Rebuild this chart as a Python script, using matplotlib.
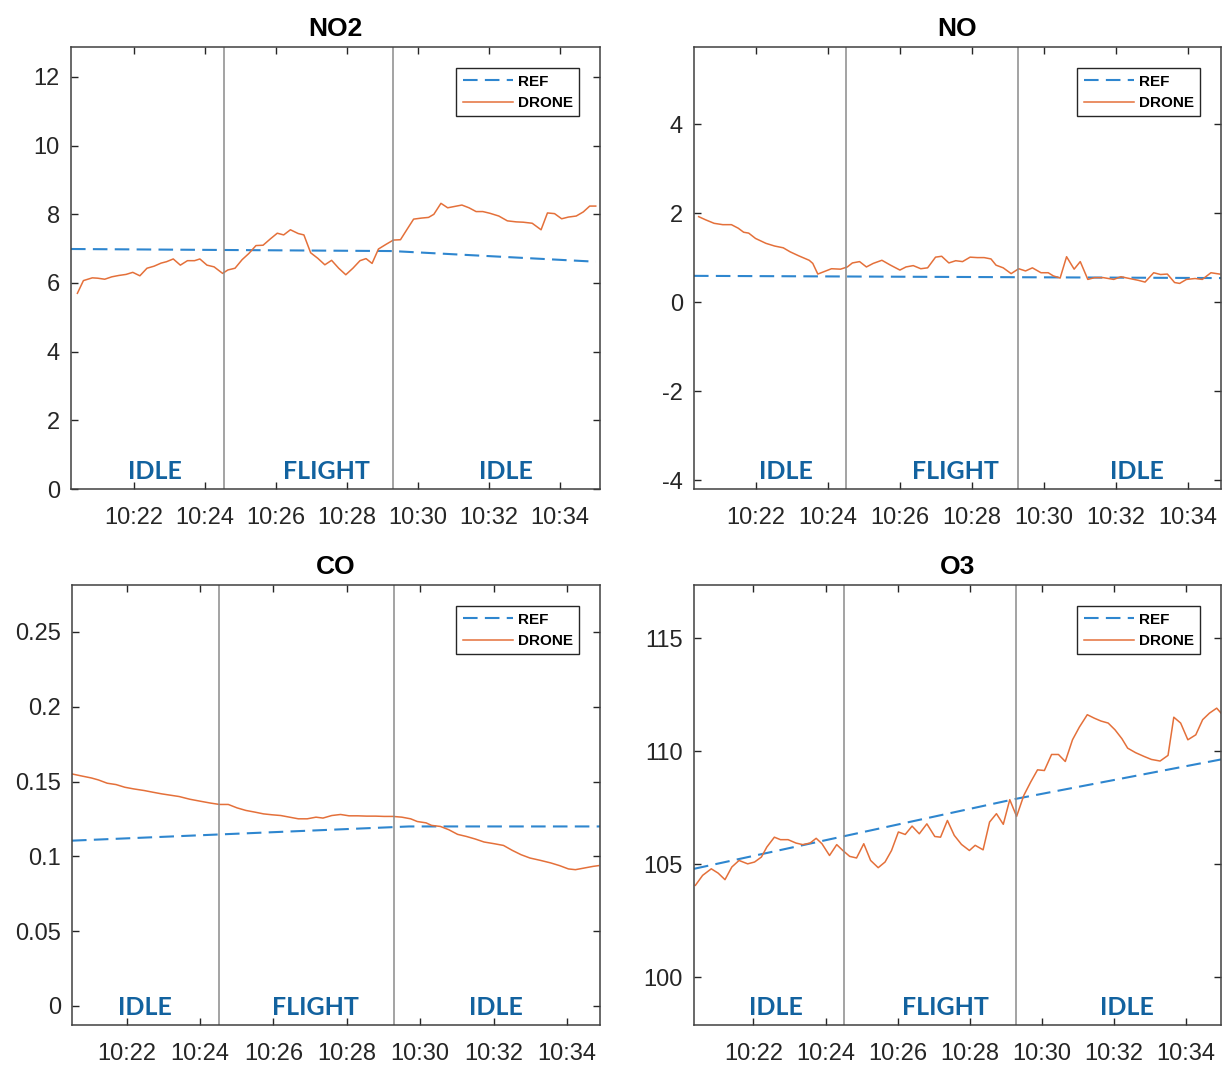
import numpy as np
import matplotlib.pyplot as plt
import matplotlib.transforms as mtransforms
from matplotlib.ticker import FixedLocator, FuncFormatter

plt.rcParams['font.family'] = ['Liberation Sans', 'DejaVu Sans']

# times are minutes after 10:00
no2_t = [20.40, 20.57, 20.82, 20.97, 21.17, 21.37, 21.57, 21.77, 21.96, 22.16,
         22.36, 22.56, 22.76, 22.91, 23.10, 23.30, 23.50, 23.70, 23.85, 24.05,
         24.25, 24.49, 24.64, 24.84, 25.04, 25.23, 25.43, 25.63, 25.83, 26.03,
         26.21, 26.40, 26.62, 26.78, 26.97, 27.17, 27.37, 27.56, 27.76, 27.96,
         28.16, 28.36, 28.53, 28.70, 28.88, 29.10, 29.30, 29.50, 29.69, 29.87,
         30.09, 30.29, 30.44, 30.64, 30.83, 31.03, 31.23, 31.43, 31.63, 31.82,
         32.02, 32.27, 32.51, 32.76, 32.96, 33.21, 33.46, 33.64, 33.84, 34.04,
         34.23, 34.45, 34.65, 34.83, 35.00]
no2_drone = [5.70, 6.07, 6.15, 6.14, 6.11, 6.18, 6.22, 6.25, 6.31, 6.21,
             6.43, 6.49, 6.58, 6.62, 6.70, 6.52, 6.65, 6.65, 6.70, 6.52,
             6.47, 6.28, 6.38, 6.43, 6.68, 6.86, 7.09, 7.10, 7.28, 7.45,
             7.40, 7.55, 7.44, 7.40, 6.88, 6.72, 6.53, 6.66, 6.43, 6.24,
             6.43, 6.65, 6.71, 6.57, 6.99, 7.13, 7.25, 7.26, 7.57, 7.86,
             7.89, 7.91, 8.00, 8.32, 8.19, 8.23, 8.27, 8.19, 8.08, 8.08,
             8.03, 7.95, 7.81, 7.78, 7.77, 7.74, 7.55, 8.04, 8.02, 7.87,
             7.92, 7.95, 8.07, 8.24, 8.24]
no2_ref_t = [20.22, 29.27, 35.00]
no2_ref = [6.99, 6.93, 6.62]

no_t = [20.42, 20.61, 20.85, 21.09, 21.33, 21.52, 21.67, 21.81, 22.00, 22.29,
        22.53, 22.77, 22.96, 23.20, 23.49, 23.59, 23.73, 23.92, 24.11, 24.36,
        24.55, 24.69, 24.89, 25.08, 25.27, 25.51, 25.75, 26.01, 26.18, 26.38,
        26.59, 26.78, 27.00, 27.17, 27.37, 27.56, 27.75, 27.96, 28.16, 28.35,
        28.54, 28.68, 28.88, 29.10, 29.31, 29.50, 29.69, 29.93, 30.13, 30.27,
        30.46, 30.64, 30.85, 31.02, 31.23, 31.42, 31.66, 31.95, 32.15, 32.39,
        32.63, 32.82, 33.06, 33.25, 33.44, 33.64, 33.78, 33.97, 34.21, 34.41,
        34.65, 34.89]
no_drone = [1.92, 1.85, 1.77, 1.74, 1.74, 1.66, 1.57, 1.55, 1.43, 1.32,
            1.26, 1.22, 1.13, 1.04, 0.94, 0.87, 0.63, 0.69, 0.75, 0.74,
            0.79, 0.88, 0.91, 0.79, 0.87, 0.94, 0.83, 0.72, 0.79, 0.82,
            0.75, 0.77, 1.01, 1.03, 0.88, 0.93, 0.91, 1.01, 1.00, 1.00,
            0.97, 0.83, 0.77, 0.64, 0.75, 0.70, 0.77, 0.66, 0.66, 0.59,
            0.54, 1.02, 0.74, 0.91, 0.51, 0.55, 0.55, 0.51, 0.57, 0.53,
            0.49, 0.45, 0.66, 0.62, 0.63, 0.44, 0.42, 0.51, 0.53, 0.51,
            0.66, 0.63]
no_ref_t = [20.29, 34.93]
no_ref = [0.59, 0.54]

co_t = [20.51, 20.76, 21.04, 21.23, 21.47, 21.71, 21.95, 22.19, 22.48, 22.71,
        22.95, 23.19, 23.43, 23.72, 24.00, 24.29, 24.53, 24.77, 25.01, 25.25,
        25.49, 25.73, 25.96, 26.20, 26.44, 26.68, 26.92, 27.16, 27.35, 27.59,
        27.83, 28.06, 28.30, 28.54, 28.78, 29.02, 29.26, 29.50, 29.74, 29.92,
        30.16, 30.31, 30.55, 30.78, 31.02, 31.26, 31.50, 31.74, 32.03, 32.27,
        32.51, 32.75, 32.99, 33.28, 33.56, 33.80, 34.04, 34.23, 34.47, 34.71,
        34.86]
co_drone = [0.1551, 0.1538, 0.1524, 0.1511, 0.1489, 0.1480, 0.1462, 0.1451, 0.1440, 0.1429,
            0.1418, 0.1409, 0.1400, 0.1382, 0.1369, 0.1356, 0.1347, 0.1347, 0.1324, 0.1307,
            0.1296, 0.1284, 0.1278, 0.1273, 0.1262, 0.1251, 0.1251, 0.1262, 0.1256, 0.1273,
            0.1280, 0.1271, 0.1271, 0.1269, 0.1269, 0.1267, 0.1267, 0.1262, 0.1251, 0.1233,
            0.1224, 0.1207, 0.1200, 0.1178, 0.1147, 0.1133, 0.1116, 0.1096, 0.1084, 0.1073,
            0.1040, 0.1011, 0.0989, 0.0973, 0.0956, 0.0938, 0.0916, 0.0911, 0.0922, 0.0933,
            0.0938]
co_ref_t = [20.51, 29.70, 34.90]
co_ref = [0.1105, 0.1200, 0.1200]

o3_t = [20.39, 20.59, 20.83, 21.02, 21.21, 21.40, 21.60, 21.84, 22.03, 22.22,
        22.37, 22.58, 22.75, 22.96, 23.18, 23.37, 23.57, 23.74, 23.90, 24.11,
        24.31, 24.48, 24.67, 24.86, 25.06, 25.25, 25.46, 25.65, 25.83, 26.02,
        26.21, 26.40, 26.60, 26.81, 27.03, 27.19, 27.38, 27.57, 27.77, 27.99,
        28.15, 28.37, 28.55, 28.74, 28.93, 29.11, 29.30, 29.50, 29.69, 29.88,
        30.07, 30.27, 30.46, 30.65, 30.85, 31.04, 31.26, 31.45, 31.64, 31.84,
        32.03, 32.22, 32.38, 32.60, 32.84, 33.04, 33.28, 33.50, 33.66, 33.85,
        34.05, 34.27, 34.46, 34.65, 34.85, 35.01]
o3_drone = [104.06, 104.50, 104.79, 104.60, 104.31, 104.87, 105.16, 105.01, 105.09, 105.31,
            105.75, 106.19, 106.08, 106.08, 105.93, 105.86, 105.93, 106.14, 105.90, 105.38,
            105.86, 105.60, 105.34, 105.27, 105.90, 105.16, 104.84, 105.09, 105.60, 106.42,
            106.31, 106.68, 106.34, 106.78, 106.22, 106.19, 106.93, 106.27, 105.87, 105.60,
            105.83, 105.63, 106.86, 107.23, 106.76, 107.85, 107.11, 108.04, 108.63, 109.17,
            109.14, 109.85, 109.85, 109.54, 110.50, 111.06, 111.61, 111.46, 111.33, 111.24,
            110.94, 110.55, 110.13, 109.93, 109.76, 109.63, 109.56, 109.81, 111.50, 111.24,
            110.50, 110.72, 111.39, 111.68, 111.90, 111.61]
o3_ref_t = [20.35, 29.29, 34.97]
o3_ref = [104.79, 107.89, 109.63]

phase_changes = [24.52, 29.28]
phase_labels = ['IDLE', 'FLIGHT', 'IDLE']
xticks = [22, 24, 26, 28, 30, 32, 34]

REF_COLOR = '#2E86CF'
DRONE_COLOR = '#E4703A'
TEXT_BLUE = '#12629F'

panels = [
    dict(title='NO2', t=no2_t, drone=no2_drone, rt=no2_ref_t, ref=no2_ref,
         rect=[0.0581, 0.5408, 0.4329, 0.4150], xlim=(20.22, 35.12), ylim=(0, 12.87),
         yticks=[0, 2, 4, 6, 8, 10, 12], lab_x=[0.159, 0.482, 0.822]),
    dict(title='NO', t=no_t, drone=no_drone, rt=no_ref_t, ref=no_ref,
         rect=[0.5679, 0.5408, 0.4313, 0.4150], xlim=(20.29, 34.93), ylim=(-4.2, 5.73),
         yticks=[-4, -2, 0, 2, 4], lab_x=[0.175, 0.497, 0.84]),
    dict(title='CO', t=co_t, drone=co_drone, rt=co_ref_t, ref=co_ref,
         rect=[0.0589, 0.0376, 0.4321, 0.4131], xlim=(20.51, 34.90), ylim=(-0.0127, 0.2814),
         yticks=[0, 0.05, 0.1, 0.15, 0.2, 0.25], lab_x=[0.138, 0.462, 0.803]),
    dict(title='O3', t=o3_t, drone=o3_drone, rt=o3_ref_t, ref=o3_ref,
         rect=[0.5679, 0.0376, 0.4313, 0.4131], xlim=(20.35, 34.97), ylim=(97.88, 117.35),
         yticks=[100, 105, 110, 115], lab_x=[0.156, 0.478, 0.822]),
]

fig = plt.figure(figsize=(12.22, 10.65), dpi=100)

for p in panels:
    ax = fig.add_axes(p['rect'])
    ax.plot(p['rt'], p['ref'], color=REF_COLOR, lw=1.5, dashes=(7, 3.5), label='REF')
    ax.plot(p['t'], p['drone'], color=DRONE_COLOR, lw=1.1, label='DRONE')
    for tc in phase_changes:
        ax.axvline(tc, color='#8a8a8a', lw=1.1)
    trans = mtransforms.blended_transform_factory(ax.transAxes, ax.transAxes)
    for lx, lab in zip(p['lab_x'], phase_labels):
        ax.text(lx, 0.04, lab, transform=trans, ha='center', va='center',
                color=TEXT_BLUE, fontsize=18, fontweight='bold',
                family=['Lato', 'DejaVu Sans'])
    ax.set_xlim(p['xlim'])
    ax.set_ylim(p['ylim'])
    ax.xaxis.set_major_locator(FixedLocator(xticks))
    ax.xaxis.set_major_formatter(FuncFormatter(lambda v, pos: '10:%02d' % round(v)))
    ax.yaxis.set_major_locator(FixedLocator(p['yticks']))
    ax.yaxis.set_major_formatter(FuncFormatter(lambda v, pos: ('%g' % round(v, 4))))
    ax.tick_params(direction='in', length=5, width=1, top=True, right=True,
                   labelsize=17, colors='#262626')
    ax.tick_params(axis='x', pad=13)
    ax.tick_params(axis='y', pad=8)
    for s in ax.spines.values():
        s.set_color('#404040')
        s.set_linewidth(1.1)
    ax.set_title(p['title'], fontsize=19, fontweight='bold', pad=8)
    leg = ax.legend(loc='upper right', prop={'weight': 'bold', 'size': 11},
                    fancybox=False, framealpha=1, edgecolor='#262626',
                    borderaxespad=1.4, handlelength=3.3, handletextpad=0.3,
                    labelspacing=0.5, borderpad=0.4)
    leg.get_frame().set_linewidth(1.0)

fig.savefig('out.png', dpi=100)
